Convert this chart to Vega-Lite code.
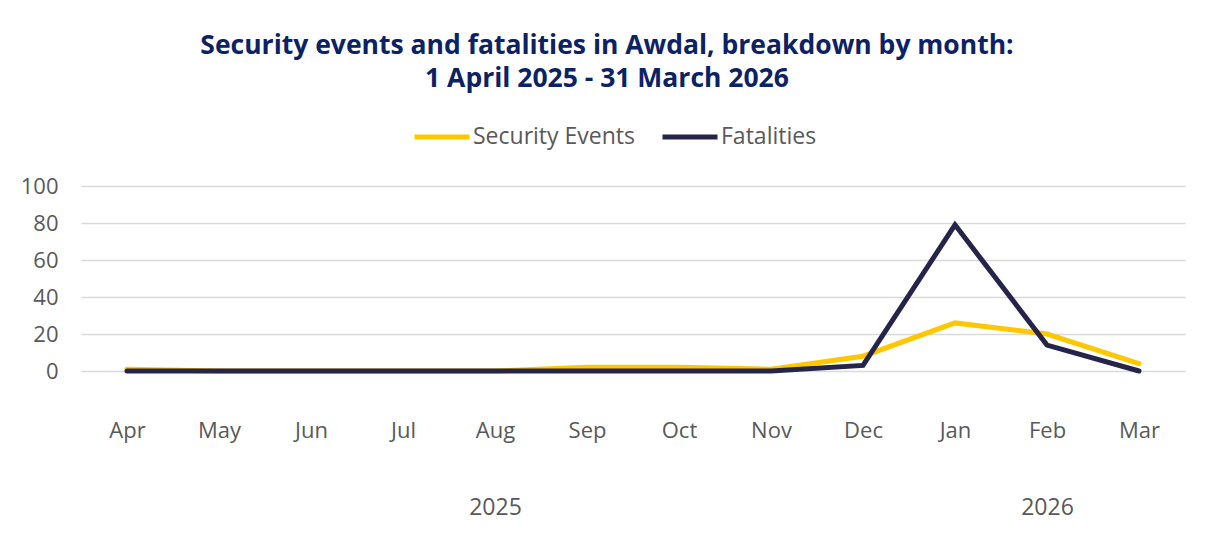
{
  "$schema": "https://vega.github.io/schema/vega-lite/v6.json",
  "width": 1104,
  "height": 185,
  "autosize": {"type": "none"},
  "padding": {"left": 81, "top": 186, "right": 28, "bottom": 165},
  "background": "white",
  "title": {
    "text": ["Security events and fatalities in Awdal, breakdown by month:", "1 April 2025 - 31 March 2026"],
    "font": "Open Sans",
    "fontSize": 26.5,
    "fontWeight": "bold",
    "color": "#0b2265",
    "anchor": "middle",
    "frame": "group",
    "dx": -26,
    "offset": 15,
    "lineHeight": 33
  },
  "data": {
    "values": [
      {"month": "Apr", "series": "Security Events", "value": 1},
      {"month": "May", "series": "Security Events", "value": 0},
      {"month": "Jun", "series": "Security Events", "value": 0},
      {"month": "Jul", "series": "Security Events", "value": 0},
      {"month": "Aug", "series": "Security Events", "value": 0},
      {"month": "Sep", "series": "Security Events", "value": 2},
      {"month": "Oct", "series": "Security Events", "value": 2},
      {"month": "Nov", "series": "Security Events", "value": 1},
      {"month": "Dec", "series": "Security Events", "value": 8},
      {"month": "Jan", "series": "Security Events", "value": 26},
      {"month": "Feb", "series": "Security Events", "value": 20},
      {"month": "Mar", "series": "Security Events", "value": 4},
      {"month": "Apr", "series": "Fatalities", "value": 0},
      {"month": "May", "series": "Fatalities", "value": 0},
      {"month": "Jun", "series": "Fatalities", "value": 0},
      {"month": "Jul", "series": "Fatalities", "value": 0},
      {"month": "Aug", "series": "Fatalities", "value": 0},
      {"month": "Sep", "series": "Fatalities", "value": 0},
      {"month": "Oct", "series": "Fatalities", "value": 0},
      {"month": "Nov", "series": "Fatalities", "value": 0},
      {"month": "Dec", "series": "Fatalities", "value": 3},
      {"month": "Jan", "series": "Fatalities", "value": 79},
      {"month": "Feb", "series": "Fatalities", "value": 14},
      {"month": "Mar", "series": "Fatalities", "value": 0}
    ]
  },
  "resolve": {"axis": {"x": "independent"}},
  "encoding": {
    "y": {
      "field": "value", "type": "quantitative",
      "scale": {"domain": [0, 100], "nice": false},
      "axis": {"title": null, "values": [0,20,40,60,80,100], "labelOverlap": false, "domain": false, "ticks": false, "grid": true, "gridColor": "#d9d9d9", "gridWidth": 1.5, "labelPadding": 23, "labelFont": "Open Sans", "labelFontSize": 22, "labelColor": "#595959"}
    },
    "color": {
      "field": "series", "type": "nominal",
      "scale": {"domain": ["Security Events", "Fatalities"], "range": ["#ffc700", "#25254b"]},
      "legend": {"title": null, "orient": "none", "legendX": 331, "legendY": -79, "direction": "horizontal", "symbolType": "stroke", "symbolSize": 3025, "symbolStrokeWidth": 5, "labelFont": "Open Sans", "labelFontSize": 23, "labelLimit": 400, "labelColor": "#595959", "labelOffset": 1, "columnPadding": 17}
    }
  },
  "layer": [
    {
      "transform": [{"filter": "datum.series == 'Security Events'"}],
      "mark": {"type": "line", "strokeWidth": 5, "strokeCap": "round", "strokeJoin": "miter"},
      "encoding": {
        "x": {
          "field": "month", "type": "ordinal", "sort": null,
          "scale": {"domain": ["Apr","May","Jun","Jul","Aug","Sep","Oct","Nov","Dec","Jan","Feb","Mar"], "padding": 0.5},
          "axis": {"orient": "bottom", "title": null, "labelAngle": 0, "domain": false, "ticks": false, "grid": false, "labelPadding": 49, "labelFont": "Open Sans", "labelFontSize": 22, "labelColor": "#595959"}
        }
      }
    },
    {
      "transform": [{"filter": "datum.series == 'Fatalities'"}],
      "mark": {"type": "line", "strokeWidth": 5, "strokeCap": "round", "strokeJoin": "miter"},
      "encoding": {
        "x": {
          "field": "month", "type": "ordinal", "sort": null,
          "scale": {"domain": ["Apr","May","Jun","Jul","Aug","Sep","Oct","Nov","Dec","Jan","Feb","Mar"], "padding": 0.5},
          "axis": {"orient": "bottom", "title": null, "values": ["Aug", "Feb"], "labelExpr": "datum.value == 'Aug' ? '2025' : '2026'", "labelAngle": 0, "domain": false, "ticks": false, "grid": false, "labelPadding": 125, "labelFont": "Open Sans", "labelFontSize": 23, "labelColor": "#595959"}
        }
      }
    }
  ],
  "config": {"view": {"stroke": null}}
}
